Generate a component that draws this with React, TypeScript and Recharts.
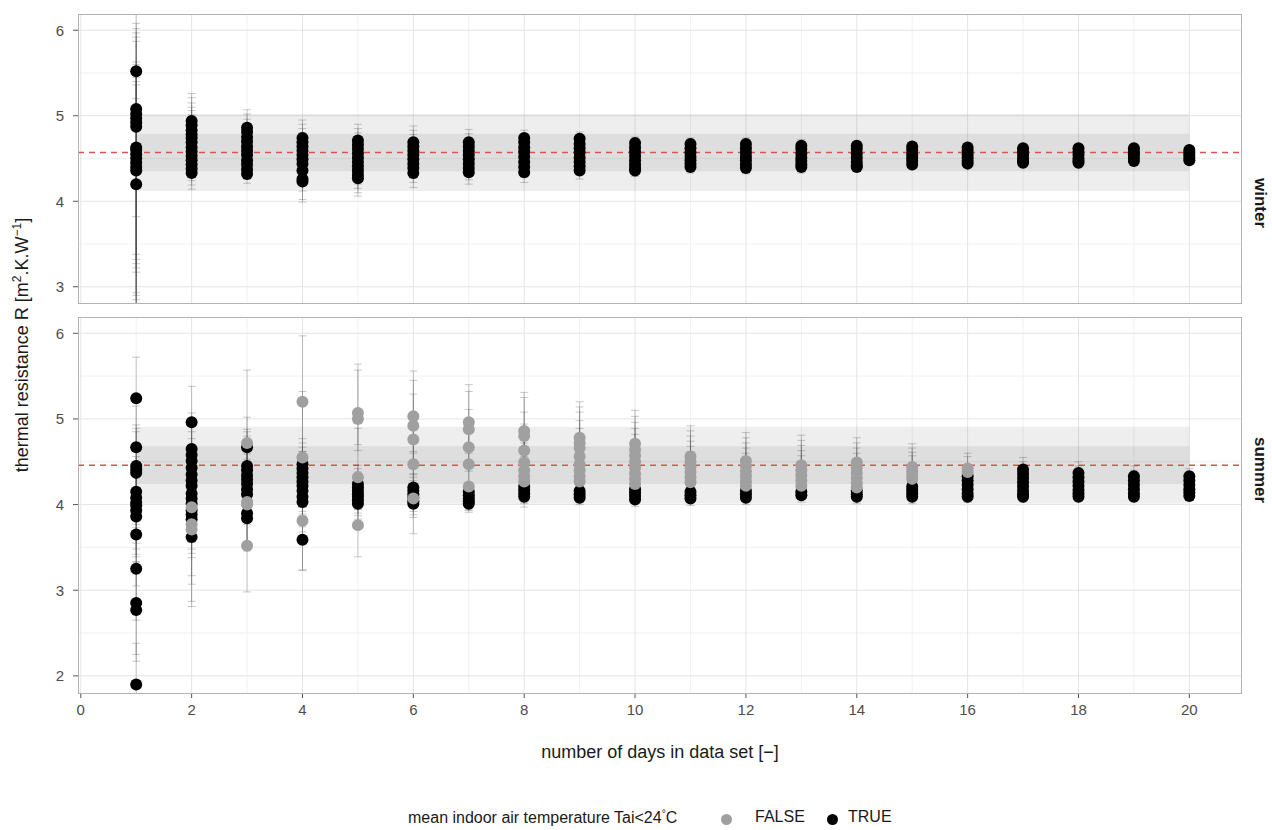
import {
  ScatterChart,
  Scatter,
  XAxis,
  YAxis,
  CartesianGrid,
  ErrorBar,
  ReferenceArea,
  ReferenceLine,
} from "recharts";

// number of days in the data set (x)
const days = [1, 2, 3, 4, 5, 6, 7, 8, 9, 10, 11, 12, 13, 14, 15, 16, 17, 18, 19, 20];

// winter: every estimate has Tai<24°C = TRUE
const winterTrue: number[][] = [
  [5.52, 5.08, 5.02, 4.97, 4.92, 4.87, 4.63, 4.6, 4.55, 4.5, 4.45, 4.4, 4.36, 4.2],
  [4.94, 4.89, 4.83, 4.78, 4.74, 4.69, 4.63, 4.58, 4.53, 4.48, 4.43, 4.38, 4.33],
  [4.86, 4.81, 4.75, 4.7, 4.64, 4.59, 4.54, 4.48, 4.43, 4.37, 4.32],
  [4.74, 4.69, 4.64, 4.59, 4.54, 4.49, 4.44, 4.36, 4.26, 4.23],
  [4.71, 4.66, 4.61, 4.56, 4.51, 4.46, 4.41, 4.36, 4.31, 4.27],
  [4.69, 4.64, 4.59, 4.54, 4.49, 4.44, 4.39, 4.33],
  [4.69, 4.64, 4.59, 4.54, 4.49, 4.44, 4.39, 4.34],
  [4.74, 4.69, 4.63, 4.58, 4.52, 4.46, 4.4, 4.34],
  [4.73, 4.67, 4.62, 4.57, 4.51, 4.46, 4.41, 4.36],
  [4.68, 4.63, 4.58, 4.53, 4.48, 4.43, 4.39, 4.36],
  [4.67, 4.62, 4.57, 4.52, 4.48, 4.44, 4.4],
  [4.67, 4.62, 4.57, 4.52, 4.48, 4.43, 4.39],
  [4.65, 4.61, 4.56, 4.51, 4.47, 4.43, 4.4],
  [4.65, 4.61, 4.56, 4.51, 4.46, 4.42, 4.4],
  [4.64, 4.6, 4.55, 4.51, 4.47, 4.43],
  [4.63, 4.59, 4.55, 4.51, 4.47, 4.44],
  [4.62, 4.58, 4.54, 4.5, 4.47, 4.45],
  [4.62, 4.58, 4.54, 4.5, 4.47, 4.45],
  [4.62, 4.58, 4.55, 4.51, 4.47],
  [4.6, 4.57, 4.54, 4.51, 4.48],
];
// [below, above] uncertainty per day
const winterTrueErr: number[][] = [
  [1.7, 1.0], [0.19, 0.32], [0.11, 0.21], [0.24, 0.21], [0.21, 0.19],
  [0.17, 0.19], [0.14, 0.15], [0.12, 0.09], [0.1, 0.08], [0.07, 0.07],
  [0.07, 0.07], [0.07, 0.07], [0.07, 0.07], [0.05, 0.05], [0.05, 0.05],
  [0.05, 0.05], [0.04, 0.04], [0.04, 0.04], [0.04, 0.04], [0.04, 0.04],
];

// summer
const summerTrue: number[][] = [
  [5.24, 4.67, 4.45, 4.41, 4.37, 4.15, 4.08, 4.02, 3.99, 3.93, 3.86, 3.65, 3.25, 2.85, 2.77, 1.9],
  [4.96, 4.65, 4.58, 4.51, 4.43, 4.35, 4.28, 4.22, 4.13, 4.07, 4.01, 3.93, 3.88, 3.83, 3.62],
  [4.67, 4.45, 4.4, 4.34, 4.29, 4.24, 4.18, 4.12, 3.9, 3.84],
  [4.47, 4.42, 4.37, 4.32, 4.27, 4.22, 4.16, 4.09, 4.03, 3.59],
  [4.24, 4.2, 4.16, 4.12, 4.09, 4.05, 4.01],
  [4.2, 4.16, 4.12, 4.08, 4.04, 4.01],
  [4.15, 4.11, 4.07, 4.04, 4.01],
  [4.21, 4.17, 4.13, 4.09],
  [4.16, 4.12, 4.08],
  [4.18, 4.14, 4.1, 4.06],
  [4.15, 4.11, 4.07],
  [4.16, 4.12, 4.08],
  [4.15, 4.11],
  [4.16, 4.12, 4.09],
  [4.21, 4.17, 4.13, 4.09],
  [4.33, 4.28, 4.23, 4.18, 4.13, 4.09],
  [4.41, 4.36, 4.31, 4.26, 4.21, 4.16, 4.12, 4.09],
  [4.37, 4.32, 4.27, 4.22, 4.17, 4.13, 4.09],
  [4.33, 4.28, 4.23, 4.18, 4.13, 4.09],
  [4.33, 4.28, 4.23, 4.18, 4.14, 4.1],
];
const summerTrueErr: number[][] = [
  [0.6, 0.48], [0.45, 0.42], [0.35, 0.35], [0.35, 0.3], [0.22, 0.22],
  [0.16, 0.16], [0.1, 0.1], [0.08, 0.08], [0.08, 0.08], [0.08, 0.08],
  [0.08, 0.08], [0.08, 0.08], [0.08, 0.08], [0.08, 0.08], [0.08, 0.08],
  [0.06, 0.1], [0.06, 0.14], [0.05, 0.13], [0.05, 0.12], [0.05, 0.09],
];
const summerFalse: number[][] = [
  [],
  [3.97, 3.77, 3.71],
  [4.72, 4.03, 4.0, 3.52],
  [5.2, 4.55, 3.81],
  [5.07, 5.0, 4.32, 3.76],
  [5.03, 4.92, 4.76, 4.47, 4.07],
  [4.96, 4.88, 4.67, 4.47, 4.21],
  [4.86, 4.8, 4.63, 4.49, 4.4, 4.33, 4.27],
  [4.78, 4.72, 4.66, 4.56, 4.47, 4.4, 4.33, 4.27],
  [4.71, 4.64, 4.57, 4.5, 4.43, 4.36, 4.3, 4.24],
  [4.56, 4.5, 4.44, 4.38, 4.32, 4.26],
  [4.51, 4.45, 4.39, 4.33, 4.27, 4.22],
  [4.46, 4.4, 4.34, 4.28, 4.22],
  [4.49, 4.43, 4.37, 4.31, 4.25, 4.2],
  [4.44, 4.39, 4.34, 4.3],
  [4.42, 4.38],
  [], [], [], [],
];
const summerFalseErr: number[][] = [
  [0, 0], [0.9, 0.5], [0.54, 0.85], [0.58, 0.77], [0.37, 0.57],
  [0.41, 0.53], [0.28, 0.44], [0.3, 0.45], [0.25, 0.42], [0.2, 0.39],
  [0.15, 0.36], [0.12, 0.33], [0.12, 0.35], [0.1, 0.29], [0.1, 0.27],
  [0.08, 0.18], [0, 0], [0, 0], [0, 0], [0, 0],
];

// reference value (dashed) and the two grey bands around it
const winterRef = 4.57;
const winterOuter = [4.12, 5.02];
const winterInner = [4.35, 4.79];
const summerRef = 4.46;
const summerOuter = [4.01, 4.91];
const summerInner = [4.24, 4.68];

const xTicks = [0, 2, 4, 6, 8, 10, 12, 14, 16, 18, 20];
const xMinor = [1, 3, 5, 7, 9, 11, 13, 15, 17, 19];
const winterTicks = [3, 4, 5, 6];
const winterMinor = [3.5, 4.5, 5.5];
const summerTicks = [2, 3, 4, 5, 6];
const summerMinor = [2.5, 3.5, 4.5, 5.5];

const FONT = "'Liberation Sans', Arial, sans-serif";
const GREY_PT = "#a0a0a0";

const toPoints = (vals: number[][], errs: number[][]) =>
  days.flatMap((d, i) => (vals[i] || []).map((y) => ({ x: d, y, err: errs[i] })));

const dot = (fill: string) => (p: any) => <circle cx={p.cx} cy={p.cy} r={6} fill={fill} />;

type PanelProps = {
  name: string;
  top: number;
  height: number;
  yDomain: number[];
  yTicks: number[];
  yMinor: number[];
  refValue: number;
  outer: number[];
  inner: number[];
  trueData: { x: number; y: number; err: number[] }[];
  falseData: { x: number; y: number; err: number[] }[];
  showX: boolean;
};

function Panel(props: PanelProps) {
  const { name, top, height, yDomain, yTicks, yMinor, refValue, outer, inner, trueData, falseData, showX } = props;
  const tick = { fontSize: 15, fill: "#4d4d4d", fontFamily: FONT };
  return (
    <div className={name} style={{ position: "absolute", left: 0, top, width: 1272, height }}>
      <ScatterChart width={1272} height={height} margin={{ top: 14, right: 30, bottom: 0, left: 0 }}>
        <CartesianGrid stroke="#f1f1f1" verticalValues={xMinor} horizontalValues={yMinor} />
        <CartesianGrid stroke="#e4e4e4" verticalValues={xTicks} horizontalValues={yTicks} />
        <XAxis
          type="number"
          dataKey="x"
          domain={[-0.05, 20.95]}
          ticks={xTicks}
          allowDataOverflow
          hide={!showX}
          height={showX ? 137 : 0}
          axisLine={false}
          tickLine={{ stroke: "#555" }}
          tickSize={5}
          tickMargin={6}
          tick={tick}
          label={{
            value: "number of days in data set [−]",
            position: "insideTop",
            offset: 52,
            fontSize: 18,
            fill: "#1a1a1a",
            fontFamily: FONT,
          }}
        />
        <YAxis
          type="number"
          dataKey="y"
          domain={yDomain}
          ticks={yTicks}
          allowDataOverflow
          width={78}
          axisLine={false}
          tickLine={{ stroke: "#555" }}
          tickSize={5}
          tickMargin={9}
          tick={tick}
        />
        <ReferenceArea x1={1} x2={20} y1={outer[0]} y2={outer[1]} fill="#000" fillOpacity={0.065} stroke="none" />
        <ReferenceArea x1={1} x2={20} y1={inner[0]} y2={inner[1]} fill="#000" fillOpacity={0.065} stroke="none" />
        <ReferenceLine y={refValue} stroke="#d9534f" strokeDasharray="6 5" strokeWidth={1.5} />
        <Scatter data={trueData} shape={dot("#000")} isAnimationActive={false}>
          <ErrorBar dataKey="err" direction="y" width={4} stroke="rgba(80,80,80,0.3)" strokeWidth={1} />
        </Scatter>
        <Scatter data={falseData} shape={dot(GREY_PT)} isAnimationActive={false}>
          <ErrorBar dataKey="err" direction="y" width={4} stroke="rgba(80,80,80,0.3)" strokeWidth={1} />
        </Scatter>
      </ScatterChart>
    </div>
  );
}

const clipCss = `
.p-top .recharts-scatter, .p-top .recharts-errorBars { clip-path: url(#clip-top); }
.p-bottom .recharts-scatter, .p-bottom .recharts-errorBars { clip-path: url(#clip-bottom); }
`;

export default function App() {
  const border = { position: "absolute" as const, left: 78, width: 1164, border: "1px solid #b3b3b3", boxSizing: "border-box" as const, pointerEvents: "none" as const };
  return (
    <div style={{ position: "absolute", left: 0, top: 0, width: 1272, height: 830, background: "#fff", fontFamily: FONT }}>
      <style>{clipCss}</style>
      <Panel
        name="p-top"
        top={0}
        height={303}
        yDomain={[2.81, 6.19]}
        yTicks={winterTicks}
        yMinor={winterMinor}
        refValue={winterRef}
        outer={winterOuter}
        inner={winterInner}
        trueData={toPoints(winterTrue, winterTrueErr)}
        falseData={[]}
        showX={false}
      />
      <Panel
        name="p-bottom"
        top={303}
        height={527}
        yDomain={[1.8, 6.19]}
        yTicks={summerTicks}
        yMinor={summerMinor}
        refValue={summerRef}
        outer={summerOuter}
        inner={summerInner}
        trueData={toPoints(summerTrue, summerTrueErr)}
        falseData={toPoints(summerFalse, summerFalseErr)}
        showX={true}
      />
      <div style={{ ...border, top: 14, height: 290 }} />
      <div style={{ ...border, top: 317, height: 377 }} />
      <svg width={1272} height={830} style={{ position: "absolute", left: 0, top: 0, pointerEvents: "none" }}>
        <defs>
          <clipPath id="clip-top" clipPathUnits="userSpaceOnUse">
            <rect x={78} y={14} width={1164} height={289} />
          </clipPath>
          <clipPath id="clip-bottom" clipPathUnits="userSpaceOnUse">
            <rect x={78} y={14} width={1164} height={376} />
          </clipPath>
        </defs>
        <text x={28} y={345} transform="rotate(-90 28 345)" textAnchor="middle" fontSize={18} fill="#1a1a1a" fontFamily={FONT}>
          thermal resistance R [m<tspan dy={-7} fontSize={12}>2</tspan>
          <tspan dy={7}>.K.W</tspan>
          <tspan dy={-7} fontSize={12}>−1</tspan>
          <tspan dy={7}>]</tspan>
        </text>
        <text x={1255} y={203} transform="rotate(90 1255 203)" textAnchor="middle" fontSize={17} fontWeight="bold" fill="#1a1a1a" fontFamily={FONT}>
          winter
        </text>
        <text x={1255} y={470} transform="rotate(90 1255 470)" textAnchor="middle" fontSize={17} fontWeight="bold" fill="#1a1a1a" fontFamily={FONT}>
          summer
        </text>
      </svg>
      <div style={{ position: "absolute", top: 808, left: 408, height: 24, fontSize: 16, color: "#1a1a1a", whiteSpace: "nowrap" }}>
        mean indoor air temperature Tai&lt;24<sup style={{ fontSize: 10 }}>°</sup>C
      </div>
      <div style={{ position: "absolute", top: 814, left: 721, width: 11, height: 11, borderRadius: 6, background: GREY_PT }} />
      <div style={{ position: "absolute", top: 808, left: 755, fontSize: 16, color: "#1a1a1a" }}>FALSE</div>
      <div style={{ position: "absolute", top: 814, left: 827, width: 11, height: 11, borderRadius: 6, background: "#000" }} />
      <div style={{ position: "absolute", top: 808, left: 848, fontSize: 16, color: "#1a1a1a" }}>TRUE</div>
    </div>
  );
}
